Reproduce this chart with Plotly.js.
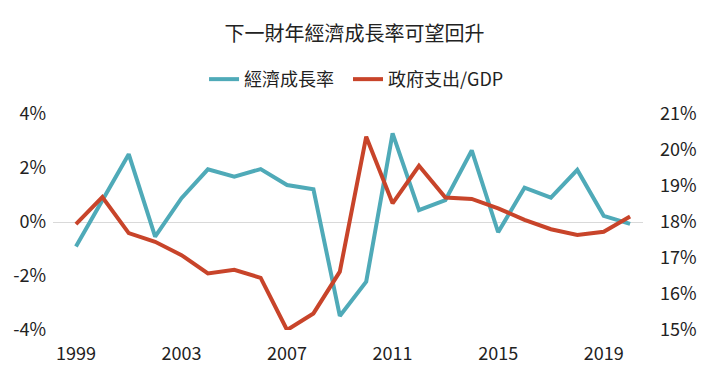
<!DOCTYPE html>
<html>
<head>
<meta charset="utf-8">
<script src="https://cdn.plot.ly/plotly-3.0.1.min.js"></script>
<style>html,body{margin:0;padding:0;background:#fff;}#chart{width:709px;height:378px;}</style>
</head>
<body>
<div id="chart"></div>
<script>
const years = [1999,2000,2001,2002,2003,2004,2005,2006,2007,2008,2009,2010,2011,2012,2013,2014,2015,2016,2017,2018,2019,2020];
const gdpGrowth = [-0.91,0.80,2.51,-0.54,0.88,1.95,1.68,1.96,1.37,1.21,-3.48,-2.21,3.28,0.44,0.81,2.65,-0.38,1.27,0.90,1.93,0.23,-0.07];
const govSpend = [17.94,18.69,17.69,17.45,17.08,16.57,16.67,16.45,15.00,15.46,16.62,20.37,18.52,19.56,18.68,18.64,18.38,18.06,17.80,17.64,17.73,18.15];
const leftTicks = [-4,-2,0,2,4];
const leftTickText = ['-4%','-2%','0%','2%','4%'];
const rightTicks = [15,16,17,18,19,20,21];
const rightTickText = ['15%','16%','17%','18%','19%','20%','21%'];
const xTicks = [1999,2003,2007,2011,2015,2019];
const seriesNames = ['經濟成長率','政府支出/GDP'];
const titleText = '下一財年經濟成長率可望回升';

const font = '"Noto Sans CJK TC", "Noto Sans", sans-serif';
const data = [
  {x: years, y: gdpGrowth, name: seriesNames[0], type: 'scatter', mode: 'lines',
   line: {color: '#4FAAB8', width: 4}, yaxis: 'y', legend: 'legend'},
  {x: years, y: govSpend, name: seriesNames[1], type: 'scatter', mode: 'lines',
   line: {color: '#C8442A', width: 4}, yaxis: 'y2', legend: 'legend2'}
];
const legendBase = {orientation: 'h', xanchor: 'left', y: 1.16, yanchor: 'middle',
  font: {family: font, size: 18, color: '#222'}, itemwidth: 30, bgcolor: 'rgba(0,0,0,0)'};
const layout = {
  width: 709, height: 378,
  margin: {l: 53, r: 66, t: 114, b: 48},
  paper_bgcolor: '#fff', plot_bgcolor: '#fff',
  font: {family: font, color: '#222'},
  title: {text: titleText, x: 0.5, xanchor: 'center', y: 0.91, yanchor: 'middle',
          font: {family: font, size: 20, color: '#222'}},
  showlegend: true,
  legend: Object.assign({}, legendBase, {x: 0.256}),
  legend2: Object.assign({}, legendBase, {x: 0.500}),
  xaxis: {range: [1998.13, 2020.49], tickvals: xTicks, ticktext: xTicks.map(String),
          showgrid: false, zeroline: false, showline: false, ticks: '',
          tickfont: {family: font, size: 18, color: '#222'}, ticklabelstandoff: 11, fixedrange: true},
  yaxis: {range: [-4, 4], tickvals: leftTicks, ticktext: leftTickText, showgrid: false,
          zeroline: true, zerolinecolor: '#d9d9d9', zerolinewidth: 1, showline: false, ticks: '',
          tickfont: {family: font, size: 18, color: '#222'}, ticklabelstandoff: 6},
  yaxis2: {range: [15, 21], tickvals: rightTicks, ticktext: rightTickText, overlaying: 'y', side: 'right',
           showgrid: false, zeroline: false, showline: false, ticks: '',
           tickfont: {family: font, size: 18, color: '#222'}, ticklabelstandoff: 16}
};
Plotly.newPlot('chart', data, layout, {displayModeBar: false, staticPlot: true});
</script>
</body>
</html>
